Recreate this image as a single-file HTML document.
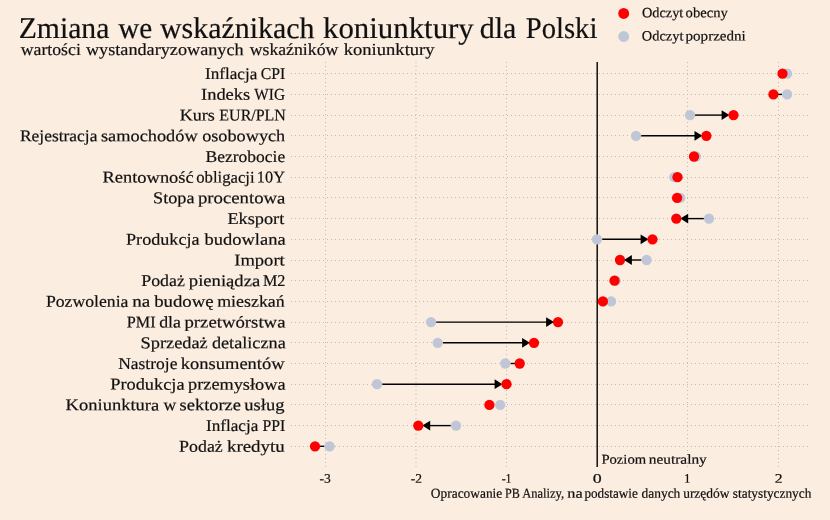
<!DOCTYPE html>
<html lang="pl"><head><meta charset="utf-8"><title>Zmiana we wskaźnikach koniunktury dla Polski</title>
<style>
html,body{margin:0;padding:0;background:#fbede0;}
body{width:830px;height:520px;overflow:hidden;font-family:"Liberation Serif",serif;}
svg{display:block;will-change:transform;}
text{font-family:"Liberation Serif",serif;fill:#111;stroke:#111;stroke-width:0.2px;}
</style></head><body>
<svg width="830" height="520" viewBox="0 0 830 520">

<g stroke="#c4bbb2" stroke-width="1" stroke-dasharray="1 3" fill="none" shape-rendering="crispEdges">
<line x1="291" y1="73.5" x2="808" y2="73.5"/>
<line x1="291" y1="94.5" x2="808" y2="94.5"/>
<line x1="291" y1="115.5" x2="808" y2="115.5"/>
<line x1="291" y1="135.5" x2="808" y2="135.5"/>
<line x1="291" y1="156.5" x2="808" y2="156.5"/>
<line x1="291" y1="177.5" x2="808" y2="177.5"/>
<line x1="291" y1="197.5" x2="808" y2="197.5"/>
<line x1="291" y1="218.5" x2="808" y2="218.5"/>
<line x1="291" y1="239.5" x2="808" y2="239.5"/>
<line x1="291" y1="260.5" x2="808" y2="260.5"/>
<line x1="291" y1="280.5" x2="808" y2="280.5"/>
<line x1="291" y1="301.5" x2="808" y2="301.5"/>
<line x1="291" y1="322.5" x2="808" y2="322.5"/>
<line x1="291" y1="342.5" x2="808" y2="342.5"/>
<line x1="291" y1="363.5" x2="808" y2="363.5"/>
<line x1="291" y1="384.5" x2="808" y2="384.5"/>
<line x1="291" y1="404.5" x2="808" y2="404.5"/>
<line x1="291" y1="425.5" x2="808" y2="425.5"/>
<line x1="291" y1="446.5" x2="808" y2="446.5"/>
<line x1="325.5" y1="62" x2="325.5" y2="467"/>
<line x1="506.5" y1="62" x2="506.5" y2="467"/>
<line x1="687.5" y1="62" x2="687.5" y2="467"/>
<line x1="778.5" y1="62" x2="778.5" y2="467"/>
</g>
<line x1="416" y1="62" x2="416" y2="467" stroke="#c4bbb2" stroke-width="1" stroke-dasharray="1 3"/>
<line x1="597.2" y1="62" x2="597.2" y2="467" stroke="#000" stroke-width="1.4"/>
<circle cx="623.7" cy="13.45" r="5.45" fill="#f00"/>
<circle cx="623.7" cy="36.5" r="5.45" fill="#bfc6d6"/>
<text transform="rotate(0.06 205.06 79.10)" x="205.06" y="79.10" font-size="16.5" stroke-width="0.3" textLength="52.26" lengthAdjust="spacingAndGlyphs">Inflacja</text>
<text transform="rotate(0.06 260.81 79.10)" x="260.81" y="79.10" font-size="16.5" stroke-width="0.3" textLength="24.48" lengthAdjust="spacingAndGlyphs">CPI</text>
<text transform="rotate(0.06 201.02 99.80)" x="201.02" y="99.80" font-size="16.5" stroke-width="0.3" textLength="49.18" lengthAdjust="spacingAndGlyphs">Indeks</text>
<text transform="rotate(0.06 254.34 99.80)" x="254.34" y="99.80" font-size="16.5" stroke-width="0.3" textLength="30.62" lengthAdjust="spacingAndGlyphs">WIG</text>
<text transform="rotate(0.06 179.67 120.50)" x="179.67" y="120.50" font-size="16.5" stroke-width="0.3" textLength="35.16" lengthAdjust="spacingAndGlyphs">Kurs</text>
<text transform="rotate(0.06 219.37 120.50)" x="219.37" y="120.50" font-size="16.5" stroke-width="0.3" textLength="66.50" lengthAdjust="spacingAndGlyphs">EUR/PLN</text>
<text transform="rotate(0.06 19.95 141.20)" x="19.95" y="141.20" font-size="16.5" stroke-width="0.3" textLength="77.44" lengthAdjust="spacingAndGlyphs">Rejestracja</text>
<text transform="rotate(0.06 100.95 141.20)" x="100.95" y="141.20" font-size="16.5" stroke-width="0.3" textLength="96.76" lengthAdjust="spacingAndGlyphs">samochodów</text>
<text transform="rotate(0.06 202.17 141.20)" x="202.17" y="141.20" font-size="16.5" stroke-width="0.3" textLength="83.06" lengthAdjust="spacingAndGlyphs">osobowych</text>
<text transform="rotate(0.06 205.58 161.90)" x="205.58" y="161.90" font-size="16.5" stroke-width="0.3" textLength="79.57" lengthAdjust="spacingAndGlyphs">Bezrobocie</text>
<text transform="rotate(0.06 102.45 182.60)" x="102.45" y="182.60" font-size="16.5" stroke-width="0.3" textLength="91.29" lengthAdjust="spacingAndGlyphs">Rentowność</text>
<text transform="rotate(0.06 196.20 182.60)" x="196.20" y="182.60" font-size="16.5" stroke-width="0.3" textLength="58.44" lengthAdjust="spacingAndGlyphs">obligacji</text>
<text transform="rotate(0.06 256.86 182.60)" x="256.86" y="182.60" font-size="16.5" stroke-width="0.3" textLength="28.07" lengthAdjust="spacingAndGlyphs">10Y</text>
<text transform="rotate(0.06 153.09 203.30)" x="153.09" y="203.30" font-size="16.5" stroke-width="0.3" textLength="41.40" lengthAdjust="spacingAndGlyphs">Stopa</text>
<text transform="rotate(0.06 197.94 203.30)" x="197.94" y="203.30" font-size="16.5" stroke-width="0.3" textLength="87.51" lengthAdjust="spacingAndGlyphs">procentowa</text>
<text transform="rotate(0.06 227.41 224.00)" x="227.41" y="224.00" font-size="16.5" stroke-width="0.3" textLength="56.88" lengthAdjust="spacingAndGlyphs">Eksport</text>
<text transform="rotate(0.06 126.03 244.70)" x="126.03" y="244.70" font-size="16.5" stroke-width="0.3" textLength="73.56" lengthAdjust="spacingAndGlyphs">Produkcja</text>
<text transform="rotate(0.06 204.53 244.70)" x="204.53" y="244.70" font-size="16.5" stroke-width="0.3" textLength="81.08" lengthAdjust="spacingAndGlyphs">budowlana</text>
<text transform="rotate(0.06 234.23 265.40)" x="234.23" y="265.40" font-size="16.5" stroke-width="0.3" textLength="50.53" lengthAdjust="spacingAndGlyphs">Import</text>
<text transform="rotate(0.06 141.28 286.10)" x="141.28" y="286.10" font-size="16.5" stroke-width="0.3" textLength="43.54" lengthAdjust="spacingAndGlyphs">Podaż</text>
<text transform="rotate(0.06 188.84 286.10)" x="188.84" y="286.10" font-size="16.5" stroke-width="0.3" textLength="71.37" lengthAdjust="spacingAndGlyphs">pieniądza</text>
<text transform="rotate(0.06 262.94 286.10)" x="262.94" y="286.10" font-size="16.5" stroke-width="0.3" textLength="22.47" lengthAdjust="spacingAndGlyphs">M2</text>
<text transform="rotate(0.06 45.91 306.80)" x="45.91" y="306.80" font-size="16.5" stroke-width="0.3" textLength="82.52" lengthAdjust="spacingAndGlyphs">Pozwolenia</text>
<text transform="rotate(0.06 132.24 306.80)" x="132.24" y="306.80" font-size="16.5" stroke-width="0.3" textLength="17.98" lengthAdjust="spacingAndGlyphs">na</text>
<text transform="rotate(0.06 154.17 306.80)" x="154.17" y="306.80" font-size="16.5" stroke-width="0.3" textLength="59.50" lengthAdjust="spacingAndGlyphs">budowę</text>
<text transform="rotate(0.06 217.18 306.80)" x="217.18" y="306.80" font-size="16.5" stroke-width="0.3" textLength="67.54" lengthAdjust="spacingAndGlyphs">mieszkań</text>
<text transform="rotate(0.06 126.79 327.50)" x="126.79" y="327.50" font-size="16.5" stroke-width="0.3" textLength="28.76" lengthAdjust="spacingAndGlyphs">PMI</text>
<text transform="rotate(0.06 159.16 327.50)" x="159.16" y="327.50" font-size="16.5" stroke-width="0.3" textLength="21.79" lengthAdjust="spacingAndGlyphs">dla</text>
<text transform="rotate(0.06 184.45 327.50)" x="184.45" y="327.50" font-size="16.5" stroke-width="0.3" textLength="101.05" lengthAdjust="spacingAndGlyphs">przetwórstwa</text>
<text transform="rotate(0.06 140.53 348.20)" x="140.53" y="348.20" font-size="16.5" stroke-width="0.3" textLength="67.24" lengthAdjust="spacingAndGlyphs">Sprzedaż</text>
<text transform="rotate(0.06 211.90 348.20)" x="211.90" y="348.20" font-size="16.5" stroke-width="0.3" textLength="73.84" lengthAdjust="spacingAndGlyphs">detaliczna</text>
<text transform="rotate(0.06 118.18 368.90)" x="118.18" y="368.90" font-size="16.5" stroke-width="0.3" textLength="59.24" lengthAdjust="spacingAndGlyphs">Nastroje</text>
<text transform="rotate(0.06 180.89 368.90)" x="180.89" y="368.90" font-size="16.5" stroke-width="0.3" textLength="103.71" lengthAdjust="spacingAndGlyphs">konsumentów</text>
<text transform="rotate(0.06 110.24 389.60)" x="110.24" y="389.60" font-size="16.5" stroke-width="0.3" textLength="74.31" lengthAdjust="spacingAndGlyphs">Produkcja</text>
<text transform="rotate(0.06 188.09 389.60)" x="188.09" y="389.60" font-size="16.5" stroke-width="0.3" textLength="97.44" lengthAdjust="spacingAndGlyphs">przemysłowa</text>
<text transform="rotate(0.06 65.64 410.30)" x="65.64" y="410.30" font-size="16.5" stroke-width="0.3" textLength="93.59" lengthAdjust="spacingAndGlyphs">Koniunktura</text>
<text transform="rotate(0.06 163.53 410.30)" x="163.53" y="410.30" font-size="16.5" stroke-width="0.3" textLength="12.73" lengthAdjust="spacingAndGlyphs">w</text>
<text transform="rotate(0.06 179.60 410.30)" x="179.60" y="410.30" font-size="16.5" stroke-width="0.3" textLength="61.35" lengthAdjust="spacingAndGlyphs">sektorze</text>
<text transform="rotate(0.06 244.29 410.30)" x="244.29" y="410.30" font-size="16.5" stroke-width="0.3" textLength="40.19" lengthAdjust="spacingAndGlyphs">usług</text>
<text transform="rotate(0.06 205.98 431.00)" x="205.98" y="431.00" font-size="16.5" stroke-width="0.3" textLength="52.29" lengthAdjust="spacingAndGlyphs">Inflacja</text>
<text transform="rotate(0.06 262.50 431.00)" x="262.50" y="431.00" font-size="16.5" stroke-width="0.3" textLength="22.71" lengthAdjust="spacingAndGlyphs">PPI</text>
<text transform="rotate(0.06 179.12 451.70)" x="179.12" y="451.70" font-size="16.5" stroke-width="0.3" textLength="43.62" lengthAdjust="spacingAndGlyphs">Podaż</text>
<text transform="rotate(0.06 226.94 451.70)" x="226.94" y="451.70" font-size="16.5" stroke-width="0.3" textLength="57.79" lengthAdjust="spacingAndGlyphs">kredytu</text>
<text transform="rotate(0.06 18.66 38.00)" x="18.66" y="38.00" font-size="30" stroke-width="0.8" textLength="90.73" lengthAdjust="spacingAndGlyphs">Zmiana</text>
<text transform="rotate(0.06 118.15 38.00)" x="118.15" y="38.00" font-size="30" stroke-width="0.8" textLength="33.93" lengthAdjust="spacingAndGlyphs">we</text>
<text transform="rotate(0.06 160.03 38.00)" x="160.03" y="38.00" font-size="30" stroke-width="0.8" textLength="154.51" lengthAdjust="spacingAndGlyphs">wskaźnikach</text>
<text transform="rotate(0.06 323.00 38.00)" x="323.00" y="38.00" font-size="30" stroke-width="0.8" textLength="150.80" lengthAdjust="spacingAndGlyphs">koniunktury</text>
<text transform="rotate(0.06 479.78 38.00)" x="479.78" y="38.00" font-size="30" stroke-width="0.8" textLength="36.63" lengthAdjust="spacingAndGlyphs">dla</text>
<text transform="rotate(0.06 525.87 38.00)" x="525.87" y="38.00" font-size="30" stroke-width="0.8" textLength="71.47" lengthAdjust="spacingAndGlyphs">Polski</text>
<text transform="rotate(0.06 20.71 55.00)" x="20.71" y="55.00" font-size="17" stroke-width="0.3" textLength="60.12" lengthAdjust="spacingAndGlyphs">wartości</text>
<text transform="rotate(0.06 85.93 55.00)" x="85.93" y="55.00" font-size="17" stroke-width="0.3" textLength="157.71" lengthAdjust="spacingAndGlyphs">wystandaryzowanych</text>
<text transform="rotate(0.06 249.69 55.00)" x="249.69" y="55.00" font-size="17" stroke-width="0.3" textLength="88.63" lengthAdjust="spacingAndGlyphs">wskaźników</text>
<text transform="rotate(0.06 343.73 55.00)" x="343.73" y="55.00" font-size="17" stroke-width="0.3" textLength="90.86" lengthAdjust="spacingAndGlyphs">koniunktury</text>
<text transform="rotate(0.06 641.97 17.30)" x="641.97" y="17.30" font-size="14.2" stroke-width="0.15" textLength="41.33" lengthAdjust="spacingAndGlyphs">Odczyt</text>
<text transform="rotate(0.06 685.64 17.30)" x="685.64" y="17.30" font-size="14.2" stroke-width="0.15" textLength="42.19" lengthAdjust="spacingAndGlyphs">obecny</text>
<text transform="rotate(0.06 641.87 40.50)" x="641.87" y="40.50" font-size="14.2" stroke-width="0.15" textLength="41.55" lengthAdjust="spacingAndGlyphs">Odczyt</text>
<text transform="rotate(0.06 685.56 40.50)" x="685.56" y="40.50" font-size="14.2" stroke-width="0.15" textLength="60.25" lengthAdjust="spacingAndGlyphs">poprzedni</text>
<text transform="rotate(0.06 601.41 463.70)" x="601.41" y="463.70" font-size="13.6" stroke-width="0.15" textLength="44.74" lengthAdjust="spacingAndGlyphs">Poziom</text>
<text transform="rotate(0.06 648.87 463.70)" x="648.87" y="463.70" font-size="13.6" stroke-width="0.15" textLength="57.92" lengthAdjust="spacingAndGlyphs">neutralny</text>
<text transform="rotate(0.06 430.84 497.80)" x="430.84" y="497.80" font-size="13.7" stroke-width="0.15" textLength="71.47" lengthAdjust="spacingAndGlyphs">Opracowanie</text>
<text transform="rotate(0.06 504.93 497.80)" x="504.93" y="497.80" font-size="13.7" stroke-width="0.15" textLength="14.77" lengthAdjust="spacingAndGlyphs">PB</text>
<text transform="rotate(0.06 522.19 497.80)" x="522.19" y="497.80" font-size="13.7" stroke-width="0.15" textLength="41.84" lengthAdjust="spacingAndGlyphs">Analizy,</text>
<text transform="rotate(0.06 567.39 497.80)" x="567.39" y="497.80" font-size="13.7" stroke-width="0.15" textLength="15.38" lengthAdjust="spacingAndGlyphs">na</text>
<text transform="rotate(0.06 584.41 497.80)" x="584.41" y="497.80" font-size="13.7" stroke-width="0.15" textLength="53.39" lengthAdjust="spacingAndGlyphs">podstawie</text>
<text transform="rotate(0.06 641.44 497.80)" x="641.44" y="497.80" font-size="13.7" stroke-width="0.15" textLength="38.93" lengthAdjust="spacingAndGlyphs">danych</text>
<text transform="rotate(0.06 683.15 497.80)" x="683.15" y="497.80" font-size="13.7" stroke-width="0.15" textLength="46.41" lengthAdjust="spacingAndGlyphs">urzędów</text>
<text transform="rotate(0.06 732.83 497.80)" x="732.83" y="497.80" font-size="13.7" stroke-width="0.15" textLength="78.50" lengthAdjust="spacingAndGlyphs">statystycznych</text>
<text transform="rotate(0.06 319.63 482.80)" x="319.63" y="482.80" font-size="13.1" stroke-width="0.0" textLength="11.27" lengthAdjust="spacingAndGlyphs">-3</text>
<text transform="rotate(0.06 410.83 482.80)" x="410.83" y="482.80" font-size="13.1" stroke-width="0.0" textLength="11.28" lengthAdjust="spacingAndGlyphs">-2</text>
<text transform="rotate(0.06 501.63 482.80)" x="501.63" y="482.80" font-size="13.1" stroke-width="0.0" textLength="9.87" lengthAdjust="spacingAndGlyphs">-1</text>
<text transform="rotate(0.06 592.85 482.80)" x="592.85" y="482.80" font-size="13.1" stroke-width="0.0" textLength="8.93" lengthAdjust="spacingAndGlyphs">0</text>
<text transform="rotate(0.06 683.94 482.80)" x="683.94" y="482.80" font-size="13.1" stroke-width="0.0" textLength="6.53" lengthAdjust="spacingAndGlyphs">1</text>
<text transform="rotate(0.06 774.66 482.80)" x="774.66" y="482.80" font-size="13.1" stroke-width="0.0" textLength="7.87" lengthAdjust="spacingAndGlyphs">2</text>
<circle cx="787.1" cy="73.70" r="5.15" fill="#bfc6d6"/>
<circle cx="782.5" cy="73.70" r="5.15" fill="#f00"/>
<line x1="782.0" y1="94.40" x2="777.4" y2="94.40" stroke="#000" stroke-width="1.4"/>
<circle cx="787.1" cy="94.40" r="5.15" fill="#bfc6d6"/>
<circle cx="773.4" cy="94.40" r="5.15" fill="#f00"/>
<line x1="695.1" y1="115.10" x2="723.5" y2="115.10" stroke="#000" stroke-width="1.4"/>
<path d="M729.5 115.10 L721.6 110.20 L721.6 120.00 Z" fill="#000"/>
<circle cx="690" cy="115.10" r="5.15" fill="#bfc6d6"/>
<circle cx="733.5" cy="115.10" r="5.15" fill="#f00"/>
<line x1="641.1" y1="135.80" x2="696.4" y2="135.80" stroke="#000" stroke-width="1.4"/>
<path d="M702.4 135.80 L694.5 130.90 L694.5 140.70 Z" fill="#000"/>
<circle cx="636" cy="135.80" r="5.15" fill="#bfc6d6"/>
<circle cx="706.4" cy="135.80" r="5.15" fill="#f00"/>
<circle cx="696" cy="156.50" r="5.15" fill="#bfc6d6"/>
<circle cx="694" cy="156.50" r="5.15" fill="#f00"/>
<circle cx="674.3" cy="177.20" r="5.15" fill="#bfc6d6"/>
<circle cx="677.5" cy="177.20" r="5.15" fill="#f00"/>
<circle cx="680.2" cy="197.90" r="5.15" fill="#bfc6d6"/>
<circle cx="677.1" cy="197.90" r="5.15" fill="#f00"/>
<line x1="703.9" y1="218.60" x2="686.3" y2="218.60" stroke="#000" stroke-width="1.4"/>
<path d="M680.3 218.60 L688.2 213.70 L688.2 223.50 Z" fill="#000"/>
<circle cx="709" cy="218.60" r="5.15" fill="#bfc6d6"/>
<circle cx="676.3" cy="218.60" r="5.15" fill="#f00"/>
<line x1="602.1" y1="239.30" x2="642.5" y2="239.30" stroke="#000" stroke-width="1.4"/>
<path d="M648.5 239.30 L640.6 234.40 L640.6 244.20 Z" fill="#000"/>
<circle cx="597" cy="239.30" r="5.15" fill="#bfc6d6"/>
<circle cx="652.5" cy="239.30" r="5.15" fill="#f00"/>
<line x1="641.5" y1="260.00" x2="630.0" y2="260.00" stroke="#000" stroke-width="1.4"/>
<path d="M624.0 260.00 L631.9 255.10 L631.9 264.90 Z" fill="#000"/>
<circle cx="646.6" cy="260.00" r="5.15" fill="#bfc6d6"/>
<circle cx="620" cy="260.00" r="5.15" fill="#f00"/>
<circle cx="615.7" cy="280.70" r="5.15" fill="#bfc6d6"/>
<circle cx="614.5" cy="280.70" r="5.15" fill="#f00"/>
<circle cx="611.1" cy="301.40" r="5.15" fill="#bfc6d6"/>
<circle cx="602.9" cy="301.40" r="5.15" fill="#f00"/>
<line x1="436.1" y1="322.10" x2="548.0" y2="322.10" stroke="#000" stroke-width="1.4"/>
<path d="M554.0 322.10 L546.1 317.20 L546.1 327.00 Z" fill="#000"/>
<circle cx="431" cy="322.10" r="5.15" fill="#bfc6d6"/>
<circle cx="558" cy="322.10" r="5.15" fill="#f00"/>
<line x1="442.8" y1="342.80" x2="524.0" y2="342.80" stroke="#000" stroke-width="1.4"/>
<path d="M530.0 342.80 L522.1 337.90 L522.1 347.70 Z" fill="#000"/>
<circle cx="437.7" cy="342.80" r="5.15" fill="#bfc6d6"/>
<circle cx="534" cy="342.80" r="5.15" fill="#f00"/>
<line x1="510.4" y1="363.50" x2="515.7" y2="363.50" stroke="#000" stroke-width="1.4"/>
<circle cx="505.3" cy="363.50" r="5.15" fill="#bfc6d6"/>
<circle cx="519.7" cy="363.50" r="5.15" fill="#f00"/>
<line x1="382.1" y1="384.20" x2="496.5" y2="384.20" stroke="#000" stroke-width="1.4"/>
<path d="M502.5 384.20 L494.6 379.30 L494.6 389.10 Z" fill="#000"/>
<circle cx="377" cy="384.20" r="5.15" fill="#bfc6d6"/>
<circle cx="506.5" cy="384.20" r="5.15" fill="#f00"/>
<circle cx="500.2" cy="404.90" r="5.15" fill="#bfc6d6"/>
<circle cx="489.4" cy="404.90" r="5.15" fill="#f00"/>
<line x1="450.9" y1="425.60" x2="428.3" y2="425.60" stroke="#000" stroke-width="1.4"/>
<path d="M422.3 425.60 L430.2 420.70 L430.2 430.50 Z" fill="#000"/>
<circle cx="456" cy="425.60" r="5.15" fill="#bfc6d6"/>
<circle cx="418.3" cy="425.60" r="5.15" fill="#f00"/>
<line x1="324.5" y1="446.30" x2="319.0" y2="446.30" stroke="#000" stroke-width="1.4"/>
<circle cx="329.6" cy="446.30" r="5.15" fill="#bfc6d6"/>
<circle cx="315" cy="446.30" r="5.15" fill="#f00"/>
</svg></body></html>
